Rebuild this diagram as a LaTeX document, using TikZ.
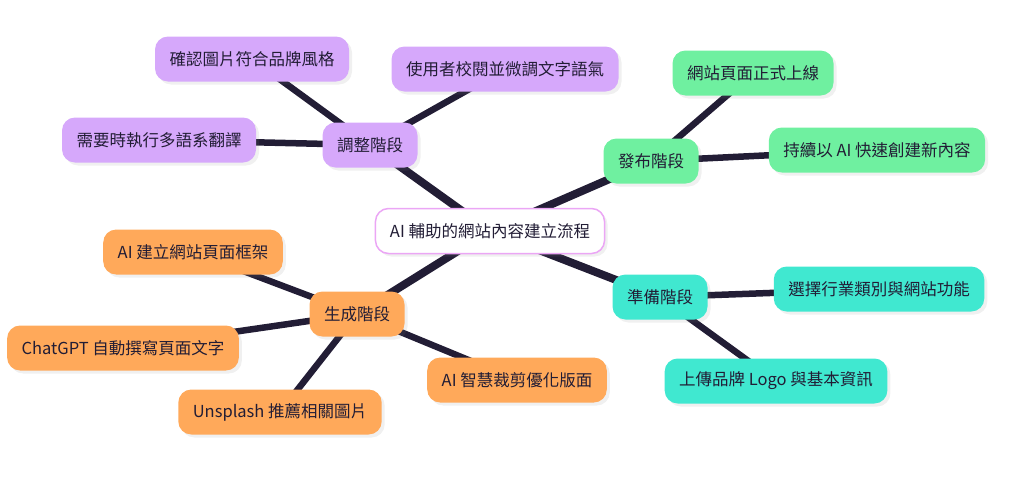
\documentclass[tikz,border=0pt]{standalone}
\usepackage{fontspec}
\setmainfont{Noto Sans CJK TC}
\usepackage{tikz}
\usetikzlibrary{shadows, backgrounds}

\definecolor{inkdark}{HTML}{221D35}
\definecolor{adjustfill}{HTML}{D6A8FB}
\definecolor{publishfill}{HTML}{6FF0A0}
\definecolor{preparefill}{HTML}{40E8D0}
\definecolor{generatefill}{HTML}{FFA95A}
\definecolor{rootborder}{HTML}{EBA6F5}

\begin{document}
\begin{tikzpicture}[
    x=1pt, y=-1pt,
    box/.style={rectangle, rounded corners=13pt, minimum height=45pt, inner xsep=14.5pt, align=center,
        text=inkdark, font=\fontsize{16.5}{19}\selectfont,
        drop shadow={opacity=0.12, shadow xshift=3pt, shadow yshift=-3pt}},
    rootbox/.style={box, draw=rootborder, line width=1.5pt, fill=white},
    trunk/.style={draw=inkdark, line width=8pt},
    twig/.style={draw=inkdark, line width=6.5pt}
]
    \useasboundingbox (0,0) rectangle (1024,480);

    % Root
    \node[rootbox] (root) at (490,231) {AI 輔助的網站內容建立流程};

    % Adjust side
    \node[box, fill=adjustfill] (adjust) at (370,145) {調整階段};
    \node[box, fill=adjustfill] (adjust_brand) at (252,59) {確認圖片符合品牌風格};
    \node[box, fill=adjustfill] (adjust_tone) at (505,69) {使用者校閱並微調文字語氣};
    \node[box, fill=adjustfill] (adjust_lang) at (159,140) {需要時執行多語系翻譯};

    % Publish side
    \node[box, fill=publishfill] (publish) at (651,161) {發布階段};
    \node[box, fill=publishfill] (publish_live) at (753,73) {網站頁面正式上線};
    \node[box, fill=publishfill] (publish_more) at (877,150) {持續以 AI 快速創建新內容};

    % Prepare side
    \node[box, fill=preparefill] (prepare) at (660,297) {準備階段};
    \node[box, fill=preparefill] (prepare_type) at (879,289) {選擇行業類別與網站功能};
    \node[box, fill=preparefill] (prepare_logo) at (776,381) {上傳品牌 Logo 與基本資訊};

    % Generate side
    \node[box, fill=generatefill] (generate) at (357,314) {生成階段};
    \node[box, fill=generatefill] (generate_frame) at (193,252) {AI 建立網站頁面框架};
    \node[box, fill=generatefill] (generate_text) at (123,348) {ChatGPT 自動撰寫頁面文字};
    \node[box, fill=generatefill] (generate_photo) at (280,412) {Unsplash 推薦相關圖片};
    \node[box, fill=generatefill] (generate_crop) at (517,380) {AI 智慧裁剪優化版面};

    % Links
    \begin{scope}[on background layer]
        \draw[trunk] (root.center) -- (adjust.center);
        \draw[trunk] (root.center) -- (publish.center);
        \draw[trunk] (root.center) -- (prepare.center);
        \draw[trunk] (root.center) -- (generate.center);

        \draw[twig] (adjust.center) -- (adjust_brand.center);
        \draw[twig] (adjust.center) -- (adjust_tone.center);
        \draw[twig] (adjust.center) -- (adjust_lang.center);

        \draw[twig] (publish.center) -- (publish_live.center);
        \draw[twig] (publish.center) -- (publish_more.center);

        \draw[twig] (prepare.center) -- (prepare_type.center);
        \draw[twig] (prepare.center) -- (prepare_logo.center);

        \draw[twig] (generate.center) -- (generate_frame.center);
        \draw[twig] (generate.center) -- (generate_text.center);
        \draw[twig] (generate.center) -- (generate_photo.center);
        \draw[twig] (generate.center) -- (generate_crop.center);
    \end{scope}
\end{tikzpicture}
\end{document}
